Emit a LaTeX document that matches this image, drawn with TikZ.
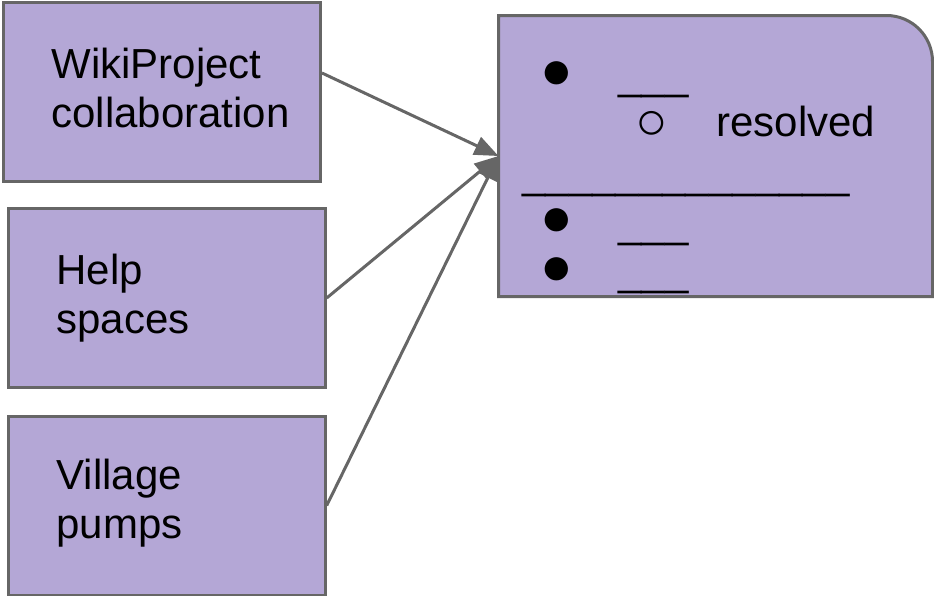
\documentclass[tikz,border=0pt]{standalone}
\usepackage{fontspec}
\setmainfont{Liberation Sans}
\usetikzlibrary{arrows.meta}

\definecolor{cardfill}{HTML}{B4A7D6}
\definecolor{cardline}{HTML}{666666}

\begin{document}
\begin{tikzpicture}[x=1pt,y=-1pt,line width=3pt,
	card/.style={draw=cardline, fill=cardfill, minimum width=317pt, minimum height=179pt, inner sep=0pt},
	cardtext/.style={anchor=base west, align=left, inner sep=0pt, font=\fontsize{42}{48.5}\selectfont},
	dot/.style={inner sep=0pt, font=\fontsize{54}{54}\selectfont},
	link/.style={draw=cardline, -{Triangle[length=24pt,width=19pt]}}]
\useasboundingbox (0,0) rectangle (934,595);

\node[card] (wiki) at (162,91.5) {};
\node[card] (help) at (166.7,298) {};
\node[card] (pumps) at (166.7,505.5) {};

% base of a two line text is its last line
\node[cardtext] (wikitext) at (50,127) {WikiProject\\collaboration};
\node[cardtext] (helptext) at (55,333) {Help\\spaces};
\node[cardtext] (pumpstext) at (55,538) {Village\\pumps};

% summary card, only the top right corner is round
\node[minimum width=434pt, minimum height=281pt, inner sep=0pt, outer sep=0pt] (summary) at (715.5,156) {};
\draw[draw=cardline, fill=cardfill] (summary.south west) -- (summary.north west) -- ([xshift=-46pt]summary.north east) arc[start angle=270, end angle=360, radius=46] -- (summary.south east) -- cycle;

\node[dot] (dot1) at (557,75) {●};
\node[cardtext] (item1) at (617,89) {\_\_\_};
\node[dot] (subdot) at (652,125) {○};
\node[cardtext] (resolved) at (715,136) {resolved};
\node[cardtext] (rule) at (521,188) {\_\_\_\_\_\_\_\_\_\_\_\_\_\_};
\node[dot] (dot2) at (557,222) {●};
\node[cardtext] (item2) at (617,237) {\_\_\_};
\node[dot] (dot3) at (557,271) {●};
\node[cardtext] (item3) at (617,285) {\_\_\_};

\draw[link] ([yshift=18.5pt]wiki.east) -- (summary.west);
\draw[link] (help.east) -- (summary.west);
\draw[link] (pumps.east) -- (summary.west);
\end{tikzpicture}
\end{document}
